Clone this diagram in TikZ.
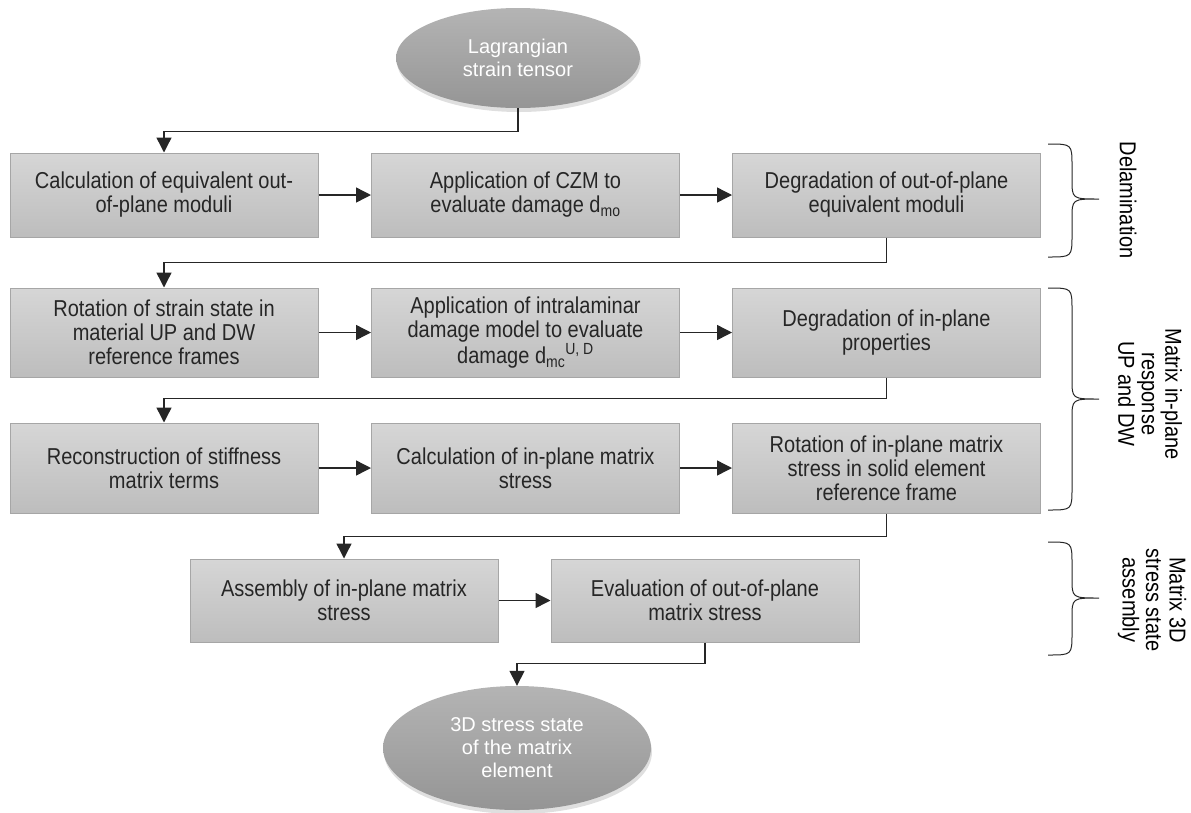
\documentclass[tikz,border=0pt]{standalone}
\usepackage{fontspec}
\setmainfont{Liberation Sans}
\newfontfamily\narrowfont[FakeStretch=0.87]{Liberation Sans}
\usetikzlibrary{shapes.geometric,arrows.meta,shadows}
\definecolor{boxtop}{HTML}{D6D6D6}
\definecolor{boxbot}{HTML}{BDBDBD}
\definecolor{boxline}{HTML}{A6A6A6}
\definecolor{elltop}{HTML}{B4B4B4}
\definecolor{ellbot}{HTML}{959595}
\definecolor{txt}{HTML}{262626}
\definecolor{conn}{HTML}{262626}
\begin{document}
\begin{tikzpicture}[x=1pt,y=-1pt,
  procbox/.style={draw=boxline, line width=1pt, top color=boxtop, bottom color=boxbot,
    minimum width=308pt, text=txt, align=center, inner sep=2pt,
    font=\narrowfont\fontsize{23}{24}\selectfont},
  ellnode/.style={ellipse, top color=elltop, bottom color=ellbot, text=white, align=center,
    inner sep=0pt, font=\fontsize{20}{23}\selectfont,
    drop shadow={shadow xshift=1pt, shadow yshift=-4pt, opacity=0.25}},
  arr/.style={draw=conn, line width=1.4pt, -{Triangle[length=15pt,width=15pt]}},
  bracestyle/.style={draw=conn, line width=1pt},
  sidelabel/.style={rotate=-90, align=center, text=black,
    font=\narrowfont\fontsize{23}{23.5}\selectfont}
]
\useasboundingbox (0,0) rectangle (1191,812);

% ellipses
\node[ellnode, minimum width=244pt, minimum height=100pt] (start) at (518,58) {Lagrangian\\strain tensor};
\node[ellnode, minimum width=268pt, minimum height=124pt] (finish) at (517,748) {3D stress state\\of the matrix\\element};

% row 1
\node[procbox, minimum height=84pt] (a1) at (164,195) {Calculation of equivalent out-\\of-plane moduli};
\node[procbox, minimum height=84pt] (a2) at (525.5,195) {Application of CZM to\\evaluate damage d\textsubscript{mo}};
\node[procbox, minimum height=84pt] (a3) at (886.5,195) {Degradation of out-of-plane\\equivalent moduli};

% row 2
\node[procbox, minimum height=89pt] (b1) at (164,332.5) {Rotation of strain state  in\\material UP and DW\\reference frames};
\node[procbox, minimum height=89pt] (b2) at (525.5,332.5) {Application of intralaminar\\damage model to evaluate\\damage d\textsubscript{mc}\textsuperscript{U, D}};
\node[procbox, minimum height=89pt] (b3) at (886.5,332.5) {Degradation of in-plane\\properties};

% row 3
\node[procbox, minimum height=90pt] (c1) at (164,468) {Reconstruction of stiffness\\matrix terms};
\node[procbox, minimum height=90pt] (c2) at (525.5,468) {Calculation of in-plane matrix\\stress};
\node[procbox, minimum height=90pt] (c3) at (886.5,468) {Rotation of in-plane matrix\\stress in solid element\\reference frame};

% row 4
\node[procbox, minimum height=83pt] (d1) at (344,600.5) {Assembly of in-plane matrix\\stress};
\node[procbox, minimum height=83pt] (d2) at (705,600.5) {Evaluation of out-of-plane\\matrix stress};

% side labels
\node[sidelabel] (lab1) at (1128,200) {Delamination};
\node[sidelabel] (lab2) at (1150,394) {Matrix in-plane\\response\\UP and DW};
\node[sidelabel] (lab3) at (1152,600) {Matrix 3D\\stress state\\assembly};

% braces
\draw[bracestyle] (1048,144) .. controls (1072,144) .. (1072,166) -- (1072,179)
  .. controls (1072,199) .. (1099,199) .. controls (1072,199) .. (1072,219) -- (1072,235)
  .. controls (1072,257) .. (1048,257);
\draw[bracestyle] (1048,288) .. controls (1072,288) .. (1072,310) -- (1072,379)
  .. controls (1072,399) .. (1099,399) .. controls (1072,399) .. (1072,419) -- (1072,488)
  .. controls (1072,510) .. (1048,510);
\draw[bracestyle] (1048,542) .. controls (1072,542) .. (1072,564) -- (1072,578)
  .. controls (1072,598) .. (1099,598) .. controls (1072,598) .. (1072,618) -- (1072,633)
  .. controls (1072,655) .. (1048,655);

% connectors
\draw[arr] (start.south) -- ++(0,23) -| (a1.north);
\draw[arr] (a1) -- (a2);
\draw[arr] (a2) -- (a3);
\draw[arr] (a3.south) -- ++(0,25) -| (b1.north);
\draw[arr] (b1) -- (b2);
\draw[arr] (b2) -- (b3);
\draw[arr] (b3.south) -- ++(0,21) -| (c1.north);
\draw[arr] (c1) -- (c2);
\draw[arr] (c2) -- (c3);
\draw[arr] (c3.south) -- ++(0,23) -| (d1.north);
\draw[arr] (d1) -- (d2);
\draw[arr] (d2.south) -- ++(0,21) -| (finish.north);
\end{tikzpicture}
\end{document}
